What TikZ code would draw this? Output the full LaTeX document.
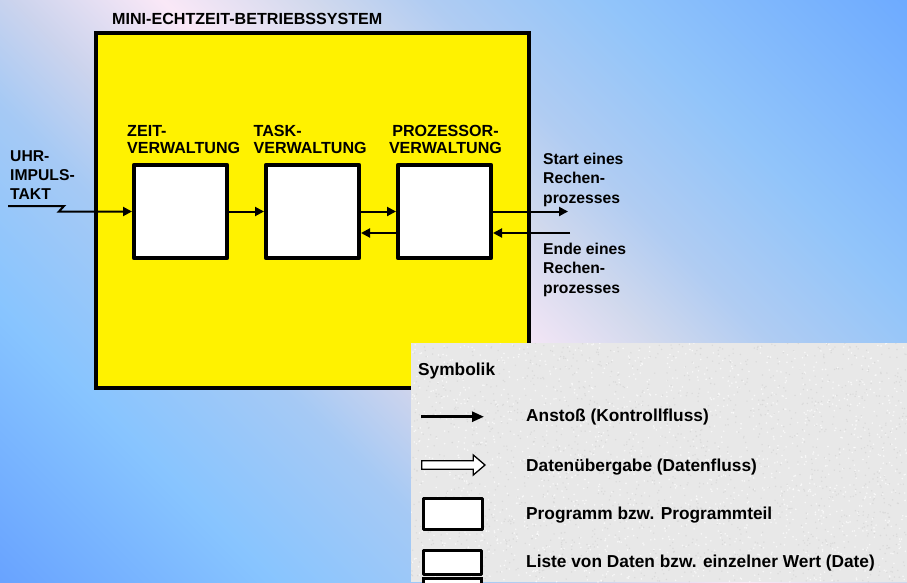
\documentclass[tikz,border=0pt]{standalone}
\usepackage{fontspec}
\setmainfont{Liberation Sans}
\usetikzlibrary{arrows.meta,calc}

% diagonal sky background: blue corners, pale pink band along the diagonal
\pgfdeclarehorizontalshading{skyband}{100bp}{%
  rgb(0bp)=(0.40,0.63,1.00);
  rgb(14.6bp)=(0.41,0.64,1.00);
  rgb(27.4bp)=(0.53,0.77,1.00);
  rgb(37.3bp)=(0.65,0.79,0.96);
  rgb(42.9bp)=(0.80,0.83,0.93);
  rgb(50bp)=(0.98,0.91,0.97);
  rgb(57.1bp)=(0.82,0.85,0.93);
  rgb(62.7bp)=(0.69,0.80,0.95);
  rgb(71.2bp)=(0.57,0.77,0.98);
  rgb(85.4bp)=(0.43,0.67,1.00);
  rgb(100bp)=(0.42,0.66,1.00)}

\definecolor{panelgray}{RGB}{232,232,232}
\definecolor{speckdark}{RGB}{212,212,212}

\begin{document}
\begin{tikzpicture}[x=1pt,y=-1pt,
  lbl/.style={font=\fontsize{16.1}{17.3}\selectfont\bfseries, inner sep=0pt, align=left},
  sidelbl/.style={font=\fontsize{15.7}{19.4}\selectfont\bfseries, inner sep=0pt, align=left, anchor=north west},
  legtxt/.style={font=\fontsize{17.3}{20}\selectfont\bfseries, inner sep=0pt, anchor=north west},
  unitbox/.style={draw, line width=3.6pt, fill=white, minimum width=93.4pt, minimum height=93.4pt, inner sep=0pt, line join=round},
  symbox/.style={draw, line width=3pt, fill=white, inner sep=0pt, line join=round},
  flow/.style={line width=2pt, -{Triangle[length=9pt,width=9pt]}}
]
% background and page frame
\shade[shading=skyband, shading angle=45] (0,0) rectangle (907,582);
\useasboundingbox (0,0) rectangle (907,582);

% operating system frame
\node[draw, line width=4pt, fill=yellow, minimum width=433pt, minimum height=355pt, inner sep=0pt] (os) at (312.5,210.5) {};
\node[lbl, anchor=north west] (title) at (112,12.7) {MINI-ECHTZEIT-BETRIEBSSYSTEM};

% the three management units
\node[unitbox] (b1) at (180.5,211.5) {};
\node[unitbox] (b2) at (312.5,211.5) {};
\node[unitbox] (b3) at (444.5,211.5) {};

\node[lbl, anchor=north west] (l1) at (127,125) {ZEIT-\\VERWALTUNG};
\node[lbl, anchor=north west] (l2) at (253.5,125) {TASK-\\VERWALTUNG};
\node[lbl, anchor=north, align=center] (l3) at (445.5,125) {PROZESSOR-\\VERWALTUNG};

% outside labels
\node[sidelbl] (clklbl) at (10,150) {UHR-\\IMPULS-\\TAKT};
\node[sidelbl] (startlbl) at (543,153) {Start eines\\Rechen-\\prozesses};
\node[sidelbl] (endelbl) at (543,243) {Ende eines\\Rechen-\\prozesses};

% control flow
\coordinate (clk) at (8,206);
\draw[flow] (clk) -- (64,206) -- (59,211.5) -- (b1.west);
\draw[flow] (b1.east) -- (b2.west);
\draw[flow] (b2.east) -- (b3.west);
\draw[flow] ($(b3.west)+(0,21.5)$) -- ($(b2.east)+(0,21.5)$);
\coordinate (startP) at (568,211.5);
\draw[flow] (b3.east) -- (startP);
\coordinate (endeP) at (570,233);
\draw[flow] (endeP) -- (b3.east |- endeP);

% legend panel with a fine granite grain
\node[fill=panelgray, minimum width=496pt, minimum height=239pt, inner sep=0pt, anchor=north west] (legend) at (411,343) {};
\begin{scope}
  \clip (legend.north west) rectangle (legend.south east);
  \pgfmathsetseed{4711}
  \foreach \k in {1,...,1600}{
    \pgfmathsetmacro{\px}{411+496*rnd}
    \pgfmathsetmacro{\py}{343+239*rnd}
    \fill[white, opacity=0.7] (\px,\py) circle (0.9);
  }
  \foreach \k in {1,...,1600}{
    \pgfmathsetmacro{\px}{411+496*rnd}
    \pgfmathsetmacro{\py}{343+239*rnd}
    \fill[speckdark, opacity=0.7] (\px,\py) circle (0.8);
  }
\end{scope}
\node[legtxt] (symb) at (418,362.7) {Symbolik};

\coordinate (ka) at (421,416.7);
\coordinate (kb) at (484,416.7);
\draw[line width=2.6pt, -{Triangle[length=12pt,width=10pt]}] (ka) -- (kb);
\node[legtxt] (tka) at (526,409) {Anstoß (Kontrollfluss)};

\draw[line width=1.3pt, fill=white, line join=miter]
  (421.7,460.7) -- (473.3,460.7) -- (473.3,455) -- (485,465) -- (473.3,475) -- (473.3,469.3) -- (421.7,469.3) -- cycle;
\node[legtxt] (tdf) at (526,458.3) {Datenübergabe (Datenfluss)};

\node[symbox, minimum width=59.3pt, minimum height=31pt] (prog) at (452.85,513.7) {};
\node[legtxt] (tprog) at (526,506.7) {Programm bzw. Programmteil};

\node[symbox, minimum width=58.6pt, minimum height=24pt] (list) at (452.5,562.5) {};
\draw[line width=3pt, fill=white] (423.2,578.5) rectangle (481.8,600);
\node[legtxt] (tlist) at (526,554.3) {Liste von Daten bzw. einzelner Wert (Date)};
\end{tikzpicture}
\end{document}
